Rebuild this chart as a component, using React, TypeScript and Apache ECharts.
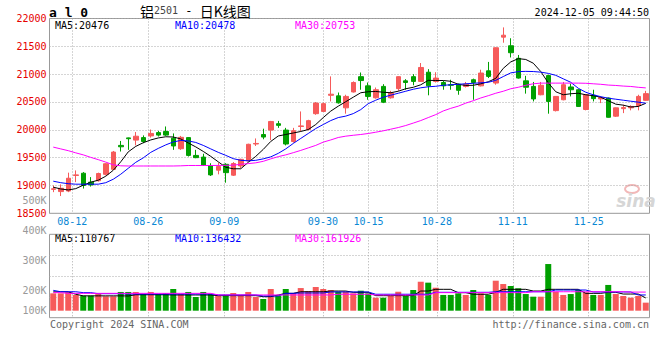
import React, { useEffect, useRef } from 'react';
import * as echarts from 'echarts';

const dates = ['08-07','08-08','08-09','08-12','08-13','08-14','08-15','08-16','08-19','08-20','08-21','08-22','08-23','08-26','08-27','08-28','08-29','08-30','09-02','09-03','09-04','09-05','09-06','09-09','09-10','09-11','09-12','09-13','09-18','09-19','09-20','09-23','09-24','09-25','09-26','09-27','09-30','10-08','10-09','10-10','10-11','10-14','10-15','10-16','10-17','10-18','10-21','10-22','10-23','10-24','10-25','10-28','10-29','10-30','10-31','11-01','11-04','11-05','11-06','11-07','11-08','11-11','11-12','11-13','11-14','11-15','11-18','11-19','11-20','11-21','11-22','11-25','11-26','11-27','11-28','11-29','12-02','12-03','12-04','12-05'];
const labelDates = ['08-12','08-26','09-09','09-30','10-15','10-28','11-11','11-25'];

const open = [18930,18890,18900,19180,19220,19060,19085,19200,19290,19720,19855,19815,19860,19890,19950,19970,19850,19660,19860,19540,19510,19350,19275,19380,19185,19350,19440,19745,19915,19995,20110,19995,19790,20060,20005,20290,20330,20620,20610,20395,20680,20955,20790,20575,20780,20575,20740,20880,20955,20870,21035,20870,20850,20810,20820,20780,20900,20790,21060,20840,21665,21510,21285,20880,20780,20630,20975,20345,20540,20770,20720,20365,20620,20555,20570,20245,20380,20395,20435,20530];
const close = [18940,18950,19130,19190,19000,19010,19215,19390,19600,19695,19840,19885,19790,19935,19905,19905,19710,19865,19540,19500,19365,19190,19340,19230,19395,19470,19740,19755,19870,20150,20080,19745,19985,20070,20165,20480,20470,20640,20485,20600,20850,20885,20600,20720,20495,20660,20955,20850,20870,21120,20790,20930,20790,20800,20710,20820,20850,21020,20960,21475,21700,21385,20930,20765,20555,20800,20510,20600,20810,20720,20420,20630,20560,20580,20225,20395,20400,20420,20600,20650];
const low = [18880,18810,18880,19060,18945,18980,19070,19180,19280,19610,19640,19720,19760,19860,19880,19890,19640,19640,19520,19490,19350,19170,19200,19050,19170,19310,19430,19710,19830,19815,20035,19720,19770,19975,19990,20270,20320,20510,20470,20290,20670,20720,20540,20560,20480,20560,20700,20720,20800,20860,20620,20850,20720,20720,20630,20760,20540,20780,20930,20810,21565,21300,20920,20650,20510,20620,20290,20330,20530,20600,20410,20350,20510,20480,20220,20230,20300,20350,20350,20520];
const high = [19000,19020,19230,19270,19240,19150,19230,19400,19620,19800,19860,19960,19900,20005,19980,20060,19935,19890,19870,19640,19570,19400,19410,19400,19420,19480,19750,19845,20020,20160,20160,20035,20035,20330,20180,20500,20490,20960,20670,20630,20870,21030,20850,20760,20820,20700,20960,20910,21000,21200,21090,21035,20880,20900,20830,20860,20920,21080,21220,21480,21840,21645,21345,20970,20860,20860,20990,20600,20860,20830,20730,20640,20720,20600,20580,20400,20450,20440,20630,20700];

const ma5 = [18970,18937,18920,18943,19005,19059,19095,19166,19273,19425,19604,19702,19768,19818,19854,19875,19871,19836,19764,19693,19612,19523,19425,19327,19300,19300,19416,19523,19648,19791,19889,19916,19943,19970,20005,20095,20220,20336,20425,20505,20586,20666,20684,20689,20675,20666,20693,20738,20764,20809,20889,20886,20886,20872,20818,20797,20800,20827,20863,20925,21104,21220,21279,21264,21197,21047,20845,20684,20630,20648,20657,20630,20613,20586,20523,20461,20443,20410,20420,20476];
const ma10 = [19077,19050,19032,19023,19023,19023,19023,19050,19112,19202,19309,19416,19496,19595,19666,19729,19782,19809,19800,19773,19720,19657,19595,19541,19482,19452,19443,19452,19478,19514,19577,19657,19755,19845,19934,20023,20095,20166,20220,20246,20291,20363,20470,20532,20586,20622,20657,20693,20729,20755,20773,20782,20800,20809,20818,20827,20836,20845,20854,20889,20957,21023,21045,21050,21047,21036,21014,20979,20916,20854,20747,20675,20630,20595,20568,20550,20532,20514,20497,20478];
const ma30 = [19689,19657,19625,19586,19550,19505,19464,19420,19371,19353,19350,19350,19350,19350,19350,19350,19350,19353,19359,19359,19359,19359,19360,19362,19365,19380,19393,19407,19434,19478,19518,19550,19589,19630,19675,19720,19779,19818,19862,19886,19902,19916,19934,19957,19982,20011,20041,20077,20121,20166,20220,20273,20339,20386,20425,20479,20523,20572,20613,20657,20693,20738,20764,20800,20827,20839,20839,20839,20839,20839,20839,20836,20827,20818,20804,20797,20786,20779,20764,20753];

// volume, in thousands (K)
const volumeK = [151,151,160,137,131,131,145,125,125,163,163,163,145,163,145,151,189,145,163,119,163,145,131,137,154,137,163,119,102,189,131,189,154,197,171,206,189,180,165,165,151,174,151,113,113,128,165,128,180,252,244,200,137,137,151,137,180,151,137,261,232,215,195,145,122,122,406,165,137,145,180,160,137,137,224,145,128,113,128,70];
const volMa5K = [164,164,164,143,129,129,129,129,129,129,128,139,139,139,139,139,137,137,137,137,137,137,131,131,131,131,131,131,122,122,137,151,151,165,165,165,165,171,171,171,160,160,160,131,131,131,131,131,131,171,171,186,186,186,157,157,143,143,143,160,186,186,186,186,171,171,186,186,186,186,186,151,151,151,160,160,145,145,145,111];
const volMa10K = [177,165,165,165,157,157,148,148,148,148,145,145,145,145,145,145,145,145,145,145,145,145,137,137,137,137,137,137,128,128,128,151,151,154,154,154,154,163,163,163,163,163,163,143,143,143,143,143,143,143,143,160,160,160,160,160,160,160,160,165,165,165,165,165,165,165,165,180,180,180,180,180,163,163,163,163,163,163,137,137];
const volMa30K = [157,157,151,151,151,151,151,151,151,151,151,151,151,151,151,151,151,151,151,151,151,151,137,137,137,137,137,137,137,137,137,137,137,137,137,137,137,137,143,143,143,143,143,137,137,137,137,137,137,137,137,157,157,157,157,157,157,157,157,157,157,157,157,157,165,165,165,165,165,165,165,165,165,165,165,165,165,162,162,162];

const mainMaLast = [20476, 20478, 20753];
const volMaLast = [110767, 136432, 161926];

const RED = '#f65a5a';
const GREEN = '#00a000';
const MONO = '"DejaVu Sans Mono", "Liberation Mono", monospace';
const GRID_LINE = { color: '#aaaaaa', type: [1, 2] as any, width: 1 };

export default function App() {
  const ref = useRef<HTMLDivElement>(null);
  useEffect(() => {
    if (!ref.current) return;
    const chart = echarts.init(ref.current, undefined, { renderer: 'svg' });
    const labelIdx = new Set(labelDates.map((d) => dates.indexOf(d)));
    const showAt = (idx: number) => labelIdx.has(idx);

    const lineSeries = (name: string, data: number[], color: string, xi: number, yi: number) => ({
      name, type: 'line', data, xAxisIndex: xi, yAxisIndex: yi, showSymbol: false, symbol: 'none',
      lineStyle: { color, width: 1 }, z: 5, silent: true,
    });

    const option: any = {
      animation: false,
      backgroundColor: '#ffffff',
      grid: [
        { left: 49.5, top: 18.5, width: 600, height: 194.8, show: true, borderColor: '#999', borderWidth: 1 },
        { left: 49.5, top: 234.3, width: 600, height: 83.4, show: true, borderColor: '#999', borderWidth: 1 },
        { left: 49.5, top: 200.7, width: 600, height: 90, show: false },
        { left: 49.5, top: 290.7, width: 600, height: 19.3, show: false },
      ],
      xAxis: [
        { type: 'category', gridIndex: 0, data: dates, boundaryGap: true, show: false, position: 'top' },
        {
          type: 'category', gridIndex: 0, data: dates, boundaryGap: false, position: 'bottom',
          axisLine: { show: false }, axisTick: { show: false },
          axisLabel: { interval: showAt, color: '#0a88d4', fontFamily: MONO, fontSize: 10, margin: 3 },
          splitLine: { show: true, interval: showAt, lineStyle: GRID_LINE },
        },
        { type: 'category', gridIndex: 1, data: dates, boundaryGap: true, show: false, position: 'top' },
        {
          type: 'category', gridIndex: 1, data: dates, boundaryGap: false, position: 'bottom',
          axisLine: { show: false }, axisTick: { show: false }, axisLabel: { show: false },
          splitLine: { show: true, interval: showAt, lineStyle: GRID_LINE },
        },
        { type: 'category', gridIndex: 2, data: dates, show: false },
        { type: 'category', gridIndex: 3, data: dates, show: false },
      ],
      yAxis: [
        {
          type: 'value', gridIndex: 0, min: 18500, max: 22000, interval: 500,
          axisLine: { show: false }, axisTick: { show: false },
          axisLabel: { color: '#e60000', fontFamily: MONO, fontSize: 10, margin: 3, padding: [0, 0, 4, 0], formatter: (v: number) => String(v) },
          splitLine: { show: true, lineStyle: GRID_LINE },
        },
        { type: 'value', gridIndex: 1, min: -60.9, max: 664.7, show: false, splitLine: { show: false } },
        {
          type: 'value', gridIndex: 1, min: 0, max: 4, interval: 1, position: 'right',
          axisLine: { show: false }, axisTick: { show: false }, axisLabel: { show: false },
          splitLine: { show: true, lineStyle: GRID_LINE },
        },
        {
          type: 'value', gridIndex: 2, min: 200, max: 500, interval: 100,
          axisLine: { show: false }, axisTick: { show: false }, splitLine: { show: false },
          axisLabel: { color: '#999', fontFamily: MONO, fontSize: 10, margin: 3, formatter: (v: number) => v + 'K' },
        },
        {
          type: 'value', gridIndex: 3, min: 100, max: 200, interval: 100,
          axisLine: { show: false }, axisTick: { show: false }, splitLine: { show: false },
          axisLabel: { color: '#999', fontFamily: MONO, fontSize: 10, margin: 3, showMaxLabel: false, formatter: (v: number) => v + 'K' },
        },
      ],
      series: [
        {
          type: 'candlestick', xAxisIndex: 0, yAxisIndex: 0, barWidth: 5, silent: true,
          data: dates.map((_, i) => [open[i], close[i], low[i], high[i]]),
          itemStyle: { color: RED, color0: GREEN, borderColor: RED, borderColor0: GREEN, borderWidth: 1 },
        },
        lineSeries('MA5', ma5, '#000000', 0, 0),
        lineSeries('MA10', ma10, '#0000ff', 0, 0),
        lineSeries('MA30', ma30, '#ff00ff', 0, 0),
        {
          type: 'bar', xAxisIndex: 2, yAxisIndex: 1, barWidth: 6, silent: true,
          data: volumeK.map((v, i) => ({ value: v, itemStyle: { color: close[i] >= open[i] ? RED : GREEN } })),
        },
        lineSeries('VMA5', volMa5K, '#000000', 2, 1),
        lineSeries('VMA10', volMa10K, '#0000ff', 2, 1),
        lineSeries('VMA30', volMa30K, '#ff00ff', 2, 1),
      ],
      graphic: [
        { type: 'text', x: 49, y: 12, style: { text: 'a l 0', font: 'bold 13px ' + MONO, fill: '#000', verticalAlign: 'middle' } },
        {
          type: 'text', x: 140, y: 10.5,
          style: {
            text: '{c|铝}{d|2501}{e| - }{c|日K线图}', verticalAlign: 'middle',
            rich: {
              c: { fontSize: 14, lineHeight: 13, fontFamily: '"Noto Sans CJK SC"', fill: '#000' },
              d: { fontSize: 10, lineHeight: 13, fontFamily: MONO, fill: '#444' },
              e: { fontSize: 12, lineHeight: 13, fontFamily: MONO, fill: '#000' },
            },
          },
        },
        { type: 'text', x: 649, y: 12, style: { text: '2024-12-05 09:44:50', font: '10px ' + MONO, fill: '#000', align: 'right', verticalAlign: 'middle' } },
        { type: 'text', x: 55, y: 25, style: { text: 'MA5:' + mainMaLast[0], font: '10px ' + MONO, fill: '#000', verticalAlign: 'middle' } },
        { type: 'text', x: 175, y: 25, style: { text: 'MA10:' + mainMaLast[1], font: '10px ' + MONO, fill: '#0000ff', verticalAlign: 'middle' } },
        { type: 'text', x: 295, y: 25, style: { text: 'MA30:' + mainMaLast[2], font: '10px ' + MONO, fill: '#ff00ff', verticalAlign: 'middle' } },
        { type: 'text', x: 55, y: 238.5, style: { text: 'MA5:' + volMaLast[0], font: '10px ' + MONO, fill: '#000', verticalAlign: 'middle' } },
        { type: 'text', x: 175, y: 238.5, style: { text: 'MA10:' + volMaLast[1], font: '10px ' + MONO, fill: '#0000ff', verticalAlign: 'middle' } },
        { type: 'text', x: 295, y: 238.5, style: { text: 'MA30:' + volMaLast[2], font: '10px ' + MONO, fill: '#ff00ff', verticalAlign: 'middle' } },
        { type: 'text', x: 50, y: 324, style: { text: 'Copyright 2024 SINA.COM', font: '10px ' + MONO, fill: '#666', verticalAlign: 'middle' } },
        { type: 'text', x: 649, y: 324, style: { text: 'http://finance.sina.com.cn', font: '10px ' + MONO, fill: '#666', align: 'right', verticalAlign: 'middle' } },
        { type: 'ellipse', shape: { cx: 632, cy: 189, rx: 7, ry: 4 }, style: { fill: 'none', stroke: '#f2b8b8', lineWidth: 2 }, z: 0 },
        { type: 'text', x: 636, y: 201, z: 0, style: { text: 'sina', font: 'italic bold 17px "DejaVu Sans"', fill: '#d6d6d6', align: 'center', verticalAlign: 'middle' } },
      ],
    };
    chart.setOption(option);
    return () => chart.dispose();
  }, []);
  return <div ref={ref} style={{ position: 'fixed', left: 0, top: 0, width: 660, height: 360, background: '#fff' }} />;
}
